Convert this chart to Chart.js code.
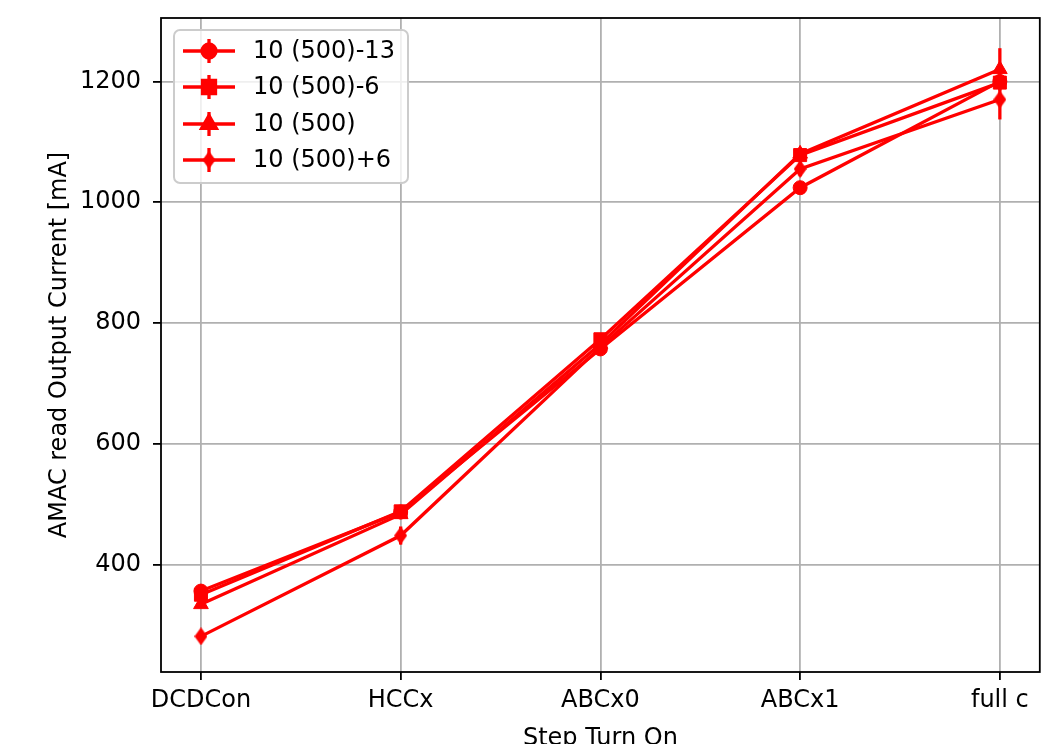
<!DOCTYPE html>
<html>
<head>
<meta charset="utf-8">
<script src="https://cdn.jsdelivr.net/npm/chart.js@4.4.1/dist/chart.umd.min.js"></script>
<style>
html, body { margin: 0; padding: 0; background: #fff; }
#wrap { width: 1050px; height: 744px; }
</style>
</head>
<body>
<div id="wrap"><canvas id="stepChart" width="1050" height="744"></canvas></div>
<script>
// Turn-on steps along the x axis
const steps = ['DCDCon', 'HCCx', 'ABCx0', 'ABCx1', 'full c'];

// Series names
const seriesNames = ['10 (500)-13', '10 (500)-6', '10 (500)', '10 (500)+6'];

// AMAC output current per step [mA] and their uncertainties
const currentM13 = [356, 487, 757, 1024, 1200];
const errorM13 = [4, 5, 6, 6, 8];
const currentM6 = [350, 488, 773, 1078, 1198];
const errorM6 = [5, 5, 6, 6, 8];
const current0 = [334, 483, 765, 1080, 1220];
const error0 = [6, 8, 8, 8, 35];
const currentP6 = [281, 448, 760, 1055, 1170];
const errorP6 = [5, 15, 8, 12, 33];

const yTicks = [400, 600, 800, 1000, 1200];

const RED = '#ff0000';
const LINE_W = 3.3;
const FONT_PX = 24;

Chart.defaults.font.family = '"DejaVu Sans", sans-serif';
Chart.defaults.font.size = FONT_PX;
Chart.defaults.color = '#000';

// matplotlib-style thin diamond marker
function thinDiamond(w, h) {
    const c = document.createElement('canvas');
    c.width = w;
    c.height = h;
    const g = c.getContext('2d');
    g.fillStyle = RED;
    g.beginPath();
    g.moveTo(w / 2, 0);
    g.lineTo(w, h / 2);
    g.lineTo(w / 2, h);
    g.lineTo(0, h / 2);
    g.closePath();
    g.fill();
    return c;
}

const markers = [
    { pointStyle: 'circle', radius: 7 },
    { pointStyle: 'rect', radius: 9.2 },
    { pointStyle: 'triangle', radius: 8.5 },
    { pointStyle: thinDiamond(13, 18), radius: 8 }
];

function makeDataset(i, values, errors) {
    return {
        label: seriesNames[i],
        data: values.map((v, k) => ({ x: k, y: v })),
        errors: errors,
        borderColor: RED,
        backgroundColor: RED,
        borderWidth: LINE_W,
        pointStyle: markers[i].pointStyle,
        pointRadius: markers[i].radius,
        pointBorderWidth: 1,
        pointBorderColor: RED,
        pointBackgroundColor: RED,
        tension: 0,
        order: 3 - i
    };
}

// vertical error bars, drawn with each dataset
const errorBars = {
    id: 'errorBars',
    afterDatasetDraw(chart, args) {
        const ds = chart.data.datasets[args.index];
        const yScale = chart.scales.y;
        const ctx = chart.ctx;
        ctx.save();
        ctx.strokeStyle = RED;
        ctx.lineWidth = LINE_W;
        args.meta.data.forEach((pt, k) => {
            const v = ds.data[k].y;
            const e = ds.errors[k];
            ctx.beginPath();
            ctx.moveTo(pt.x, yScale.getPixelForValue(v - e));
            ctx.lineTo(pt.x, yScale.getPixelForValue(v + e));
            ctx.stroke();
        });
        ctx.restore();
    }
};

// black frame around the plot area
const frame = {
    id: 'frame',
    afterDatasetsDraw(chart) {
        const { ctx, chartArea: a } = chart;
        ctx.save();
        ctx.strokeStyle = '#000';
        ctx.lineWidth = 1.8;
        ctx.strokeRect(a.left, a.top, a.right - a.left, a.bottom - a.top);
        ctx.restore();
    }
};

// legend box in the upper left, line + marker + error bar per entry
const boxLegend = {
    id: 'boxLegend',
    afterDraw(chart) {
        const ctx = chart.ctx;
        const bx = 174, by = 30, bw = 234, bh = 153;
        ctx.save();
        ctx.beginPath();
        ctx.roundRect(bx, by, bw, bh, 6);
        ctx.fillStyle = 'rgba(255,255,255,0.8)';
        ctx.fill();
        ctx.strokeStyle = '#cccccc';
        ctx.lineWidth = 2;
        ctx.stroke();
        const rows = [51, 87, 124, 160];
        chart.data.datasets.forEach((ds, i) => {
            const y = rows[i];
            ctx.strokeStyle = RED;
            ctx.lineWidth = LINE_W;
            ctx.beginPath();
            ctx.moveTo(183, y);
            ctx.lineTo(235, y);
            ctx.moveTo(209, y - 12);
            ctx.lineTo(209, y + 12);
            ctx.stroke();
            ctx.fillStyle = RED;
            Chart.helpers.drawPoint(ctx, {
                pointStyle: ds.pointStyle,
                radius: ds.pointRadius,
                rotation: 0,
                borderWidth: 1
            }, 209, y);
            ctx.fillStyle = '#000';
            ctx.font = FONT_PX + 'px "DejaVu Sans"';
            ctx.textBaseline = 'middle';
            ctx.textAlign = 'left';
            ctx.fillText(ds.label, 253, y + 1);
        });
        ctx.restore();
    }
};

new Chart(document.getElementById('stepChart'), {
    type: 'line',
    data: {
        datasets: [
            makeDataset(0, currentM13, errorM13),
            makeDataset(1, currentM6, errorM6),
            makeDataset(2, current0, error0),
            makeDataset(3, currentP6, errorP6)
        ]
    },
    options: {
        responsive: false,
        animation: false,
        layout: { padding: { top: 18, right: 10, left: 0, bottom: 0 } },
        plugins: {
            legend: { display: false },
            tooltip: { enabled: false }
        },
        scales: {
            x: {
                type: 'linear',
                min: -0.2,
                max: 4.2,
                afterBuildTicks: axis => { axis.ticks = steps.map((s, i) => ({ value: i })); },
                afterFit: axis => {
                    axis.height = 72;
                    axis.paddingLeft = 0;
                    axis.paddingRight = 0;
                },
                ticks: {
                    callback: v => steps[v],
                    padding: 6,
                    autoSkip: false,
                    maxRotation: 0,
                    color: '#000'
                },
                grid: { color: '#b0b0b0', lineWidth: 1.8, tickLength: 8, tickColor: '#000', tickWidth: 1.8 },
                border: { display: false },
                title: { display: true, text: 'Step Turn On', color: '#000', padding: { top: 0, bottom: -9 } }
            },
            y: {
                min: 222,
                max: 1305,
                afterBuildTicks: axis => { axis.ticks = yTicks.map(v => ({ value: v })); },
                afterFit: axis => {
                    axis.width = 161;
                    axis.paddingTop = 0;
                    axis.paddingBottom = 0;
                },
                ticks: { padding: 12, color: '#000', callback: v => String(v) },
                grid: { color: '#b0b0b0', lineWidth: 1.8, tickLength: 8, tickColor: '#000', tickWidth: 1.8 },
                border: { display: false },
                title: { display: true, text: 'AMAC read Output Current [mA]', color: '#000', padding: { top: 45, bottom: 0 } }
            }
        }
    },
    plugins: [errorBars, frame, boxLegend]
});
</script>
</body>
</html>
